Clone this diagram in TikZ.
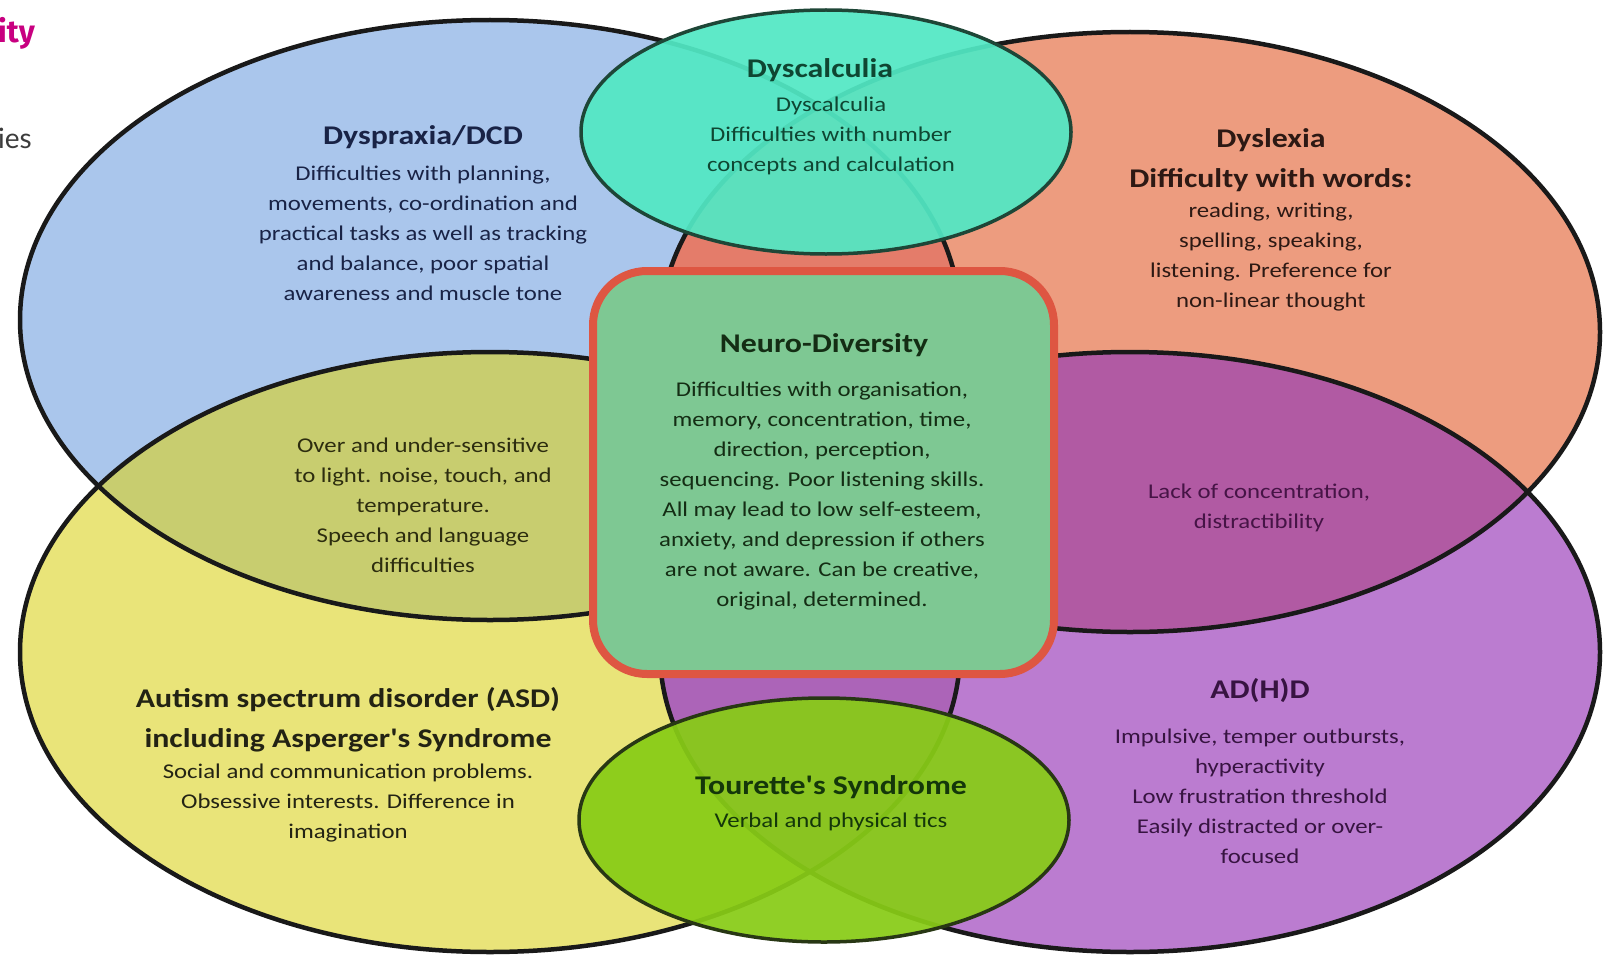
\documentclass[tikz,border=0pt]{standalone}
\usepackage{fontspec}
\setmainfont{Carlito}[FakeStretch=1.18, Ligatures=TeXOff]
\newfontfamily\pagefont{Fira Sans}
\newfontfamily\pagelight{Lato}
\definecolor{cblue}{RGB}{170,198,236}
\definecolor{corange}{RGB}{237,156,127}
\definecolor{cyellow}{RGB}{233,228,121}
\definecolor{cpurple}{RGB}{187,124,208}
\definecolor{cbo}{RGB}{228,124,106}
\definecolor{cby}{RGB}{200,205,111}
\definecolor{cop}{RGB}{177,90,163}
\definecolor{cyp}{RGB}{172,100,184}
\definecolor{outl}{RGB}{25,25,25}
\definecolor{cbox}{RGB}{126,200,147}
\definecolor{cboxline}{RGB}{222,86,66}
\definecolor{cturq}{RGB}{82,232,196}
\definecolor{cturqline}{RGB}{30,70,55}
\definecolor{clime}{RGB}{136,204,22}
\definecolor{climeline}{RGB}{40,55,20}
\definecolor{tnavy}{RGB}{25,35,70}
\definecolor{tteal}{RGB}{15,70,50}
\definecolor{tbrown}{RGB}{45,25,20}
\definecolor{tgreen}{RGB}{20,45,20}
\definecolor{tolive}{RGB}{45,45,15}
\definecolor{tplum}{RGB}{70,20,70}
\definecolor{tdark}{RGB}{35,35,20}
\definecolor{tlime}{RGB}{20,55,10}
\definecolor{tviolet}{RGB}{55,20,65}
\definecolor{cmagenta}{RGB}{200,0,128}
\definecolor{cgreytxt}{RGB}{60,60,60}
\tikzset{
  vennline/.style={line width=4.5pt, draw=outl},
  bodytxt/.style={align=center, font=\fontsize{21}{30}\selectfont, inner sep=0pt},
  ttltxt/.style={align=center, font=\fontsize{27}{40}\selectfont\bfseries, inner sep=0pt},
  bigE/.style={x radius=470pt, y radius=300pt},
  smallE/.style={x radius=245pt, y radius=122pt},
}
\begin{document}
\begin{tikzpicture}[x=1pt,y=-1pt]
\useasboundingbox (0,0) rectangle (1620,958);
\fill[white] (0,0) rectangle (1620,958);
% centres
\coordinate (cB) at (490,320);
\coordinate (cO) at (1130,332);
\coordinate (cY) at (490,652);
\coordinate (cP) at (1130,652);
\coordinate (cD) at (826,132);
\coordinate (cT) at (824,820);
% base fills
\fill[cblue] (cB) ellipse [bigE];
\fill[corange] (cO) ellipse [bigE];
\fill[cyellow] (cY) ellipse [bigE];
\fill[cpurple] (cP) ellipse [bigE];
% overlaps
\begin{scope}
  \clip (cB) ellipse [bigE];
  \fill[cbo] (cO) ellipse [bigE];
  \fill[cby] (cY) ellipse [bigE];
\end{scope}
\begin{scope}
  \clip (cP) ellipse [bigE];
  \fill[cop] (cO) ellipse [bigE];
  \fill[cyp] (cY) ellipse [bigE];
\end{scope}
% outlines
\draw[vennline] (cB) ellipse [bigE];
\draw[vennline] (cO) ellipse [bigE];
\draw[vennline] (cY) ellipse [bigE];
\draw[vennline] (cP) ellipse [bigE];
% central box
\node[draw=cboxline, fill=cbox, line width=8pt, rounded corners=54pt,
      minimum width=461pt, minimum height=403pt, inner sep=0pt] (ndbox) at (823.5,472.5) {};
% small ellipses
\fill[cturq, fill opacity=0.93] (cD) ellipse [smallE];
\draw[cturqline, line width=3.5pt] (cD) ellipse [smallE];
\fill[clime, fill opacity=0.93] (cT) ellipse [smallE];
\draw[climeline, line width=3.5pt] (cT) ellipse [smallE];

% page fragments
\node[anchor=base east, inner sep=0pt, font=\pagefont\bfseries\fontsize{31}{36}\selectfont, text=cmagenta] (frag1) at (35,43) {ity};
\node[anchor=base east, inner sep=0pt, font=\pagelight\fontsize{28}{34}\selectfont, text=cgreytxt] (frag2) at (32,148) {ies};

% Dyspraxia
\node[ttltxt, text=tnavy] (dysT) at (423,137) {Dyspraxia/DCD};
\node[bodytxt, text=tnavy] (dysB) at (423,233) {Difficulties with planning,\\movements, co-ordination and\\practical tasks as well as tracking\\and balance, poor spatial\\awareness and muscle tone};

% Dyscalculia
\node[ttltxt, text=tteal] (calT) at (820,70) {Dyscalculia};
\node[bodytxt, text=tteal] (calB) at (831,136) {Dyscalculia\\Difficulties with number\\concepts and calculation};

% Dyslexia
\node[ttltxt, text=tbrown] (lexT) at (1271,160) {Dyslexia\\[0pt]Difficulty with words:};
\node[bodytxt, text=tbrown] (lexB) at (1271,257) {reading, writing,\\spelling, speaking,\\listening. Preference for\\non-linear thought};

% Neuro-Diversity
\node[ttltxt, text=tgreen] (ndT) at (824,345) {Neuro-Diversity};
\node[bodytxt, text=tgreen] (ndB) at (822,496) {Difficulties with organisation,\\memory, concentration, time,\\direction, perception,\\sequencing. Poor listening skills.\\All may lead to low self-esteem,\\anxiety, and depression if others\\are not aware. Can be creative,\\original, determined.};

% Blue-yellow overlap
\node[bodytxt, text=tolive] (byB) at (423,505) {Over and under-sensitive\\to light. noise, touch, and\\temperature.\\Speech and language\\difficulties};

% Orange-purple overlap
\node[bodytxt, text=tplum] (opB) at (1259,508) {Lack of concentration,\\distractibility};

% ASD
\node[ttltxt, text=tdark] (asdT) at (348,720) {Autism spectrum disorder (ASD)\\including Asperger's Syndrome};
\node[bodytxt, text=tdark] (asdB) at (348,803) {Social and communication problems.\\Obsessive interests. Difference in\\imagination};

% Tourette
\node[ttltxt, text=tlime] (touT) at (831,787) {Tourette's Syndrome};
\node[bodytxt, text=tlime] (touB) at (831,822) {Verbal and physical tics};

% ADHD
\node[ttltxt, text=tviolet] (adT) at (1260,691) {AD(H)D};
\node[bodytxt, text=tviolet] (adB) at (1260,796) {Impulsive, temper outbursts,\\hyperactivity\\Low frustration threshold\\Easily distracted or over-\\focused};
\end{tikzpicture}
\end{document}
